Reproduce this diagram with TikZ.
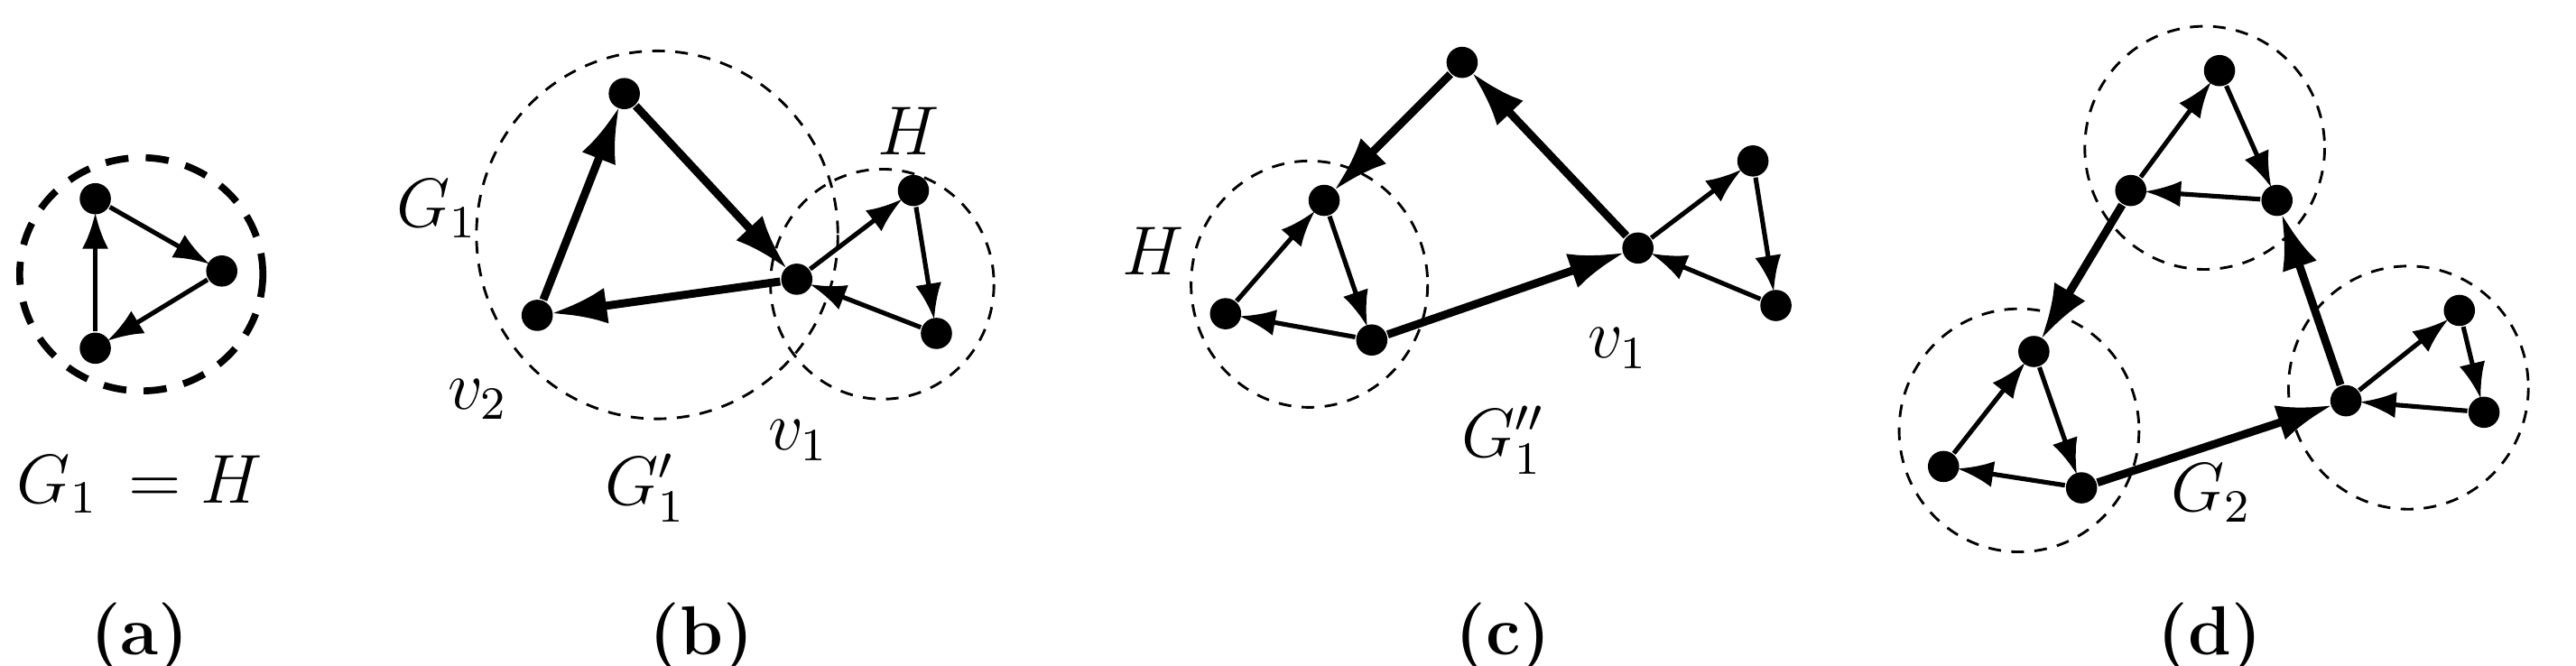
\documentclass[tikz,border=0pt]{standalone}
\usetikzlibrary{arrows.meta}
\begin{document}
\begin{tikzpicture}[x=0.1mm,y=-0.1mm,
  vtx/.style={circle,fill=black,inner sep=0pt,minimum size=1.9mm},
  thin edge/.style={line width=0.8pt,-{Latex[length=2.2mm,width=1.6mm]},shorten >=-0.5pt},
  thick edge/.style={line width=1.4pt,-{Latex[length=3.4mm,width=2.2mm]},shorten >=-0.5pt},
  ring/.style={line width=0.45pt,dash pattern=on 2.2pt off 1.8pt},
  bring/.style={line width=1.2pt,dash pattern=on 4pt off 3pt},
  lab/.style={font=\large},
  captext/.style={font=\large\bfseries}]
\useasboundingbox (0,0) rectangle (1568,405);
% (a)
\node[vtx] (a1) at (58,121) {};
\node[vtx] (a2) at (135,165) {};
\node[vtx] (a3) at (58,212) {};
\draw[bring] (86,167) ellipse (74 and 71);
\draw[thin edge] (a1) -- (a2);
\draw[thin edge] (a2) -- (a3);
\draw[thin edge] (a3) -- (a1);
\node[lab] (la) at (85,295) {$G_1\,=H$};
\node[captext] (ca) at (85,388) {(a)};
% (b)
\node[vtx] (bt) at (380,57) {};
\node[vtx] (bv2) at (327,192) {};
\node[vtx] (bv1) at (485,170) {};
\node[vtx] (bh1) at (556,116) {};
\node[vtx] (bh2) at (570,203) {};
\draw[ring] (400,143) ellipse (110 and 112);
\draw[ring] (537,173) ellipse (68 and 70);
\draw[thick edge] (bv2) -- (bt);
\draw[thick edge] (bt) -- (bv1);
\draw[thick edge] (bv1) -- (bv2);
\draw[thin edge] (bv1) -- (bh1);
\draw[thin edge] (bh1) -- (bh2);
\draw[thin edge] (bh2) -- (bv1);
\node[lab] (lb1) at (266,127) {$G_1$};
\node[lab] (lb2) at (553,80) {$H$};
\node[lab] (lb3) at (291,243) {$v_2$};
\node[lab] (lb4) at (486,268) {$v_1$};
\node[lab] (lb5) at (393,297) {$G_1'$};
\node[captext] (cb) at (427,388) {(b)};
% (c)
\node[vtx] (ct) at (890,38) {};
\node[vtx] (ch1) at (806,122) {};
\node[vtx] (ch2) at (746,191) {};
\node[vtx] (ch3) at (835,207) {};
\node[vtx] (cv1) at (997,151) {};
\node[vtx] (cr1) at (1067,98) {};
\node[vtx] (cr2) at (1081,186) {};
\draw[ring] (797,173) ellipse (72 and 75);
\draw[thick edge] (ct) -- (ch1);
\draw[thick edge] (cv1) -- (ct);
\draw[thick edge] (ch3) -- (cv1);
\draw[thin edge] (ch2) -- (ch1);
\draw[thin edge] (ch1) -- (ch3);
\draw[thin edge] (ch3) -- (ch2);
\draw[thin edge] (cv1) -- (cr1);
\draw[thin edge] (cr1) -- (cr2);
\draw[thin edge] (cr2) -- (cv1);
\node[lab] (lc1) at (702,153) {$H$};
\node[lab] (lc2) at (985,212) {$v_1$};
\node[lab] (lc3) at (915,268) {$G_1''$};
\node[captext] (cc) at (915,388) {(c)};
% (d)
\node[vtx] (dt1) at (1351,43) {};
\node[vtx] (dt2) at (1297,116) {};
\node[vtx] (dt3) at (1386,122) {};
\node[vtx] (dl1) at (1238,214) {};
\node[vtx] (dl2) at (1183,284) {};
\node[vtx] (dl3) at (1267,297) {};
\node[vtx] (dv) at (1428,244) {};
\node[vtx] (dr1) at (1497,189) {};
\node[vtx] (dr2) at (1512,251) {};
\draw[ring] (1342,90) ellipse (73 and 74);
\draw[ring] (1229,262) ellipse (73 and 74);
\draw[ring] (1466,236) ellipse (73 and 74);
\draw[thin edge] (dt2) -- (dt1);
\draw[thin edge] (dt1) -- (dt3);
\draw[thin edge] (dt3) -- (dt2);
\draw[thin edge] (dl2) -- (dl1);
\draw[thin edge] (dl1) -- (dl3);
\draw[thin edge] (dl3) -- (dl2);
\draw[thin edge] (dv) -- (dr1);
\draw[thin edge] (dr1) -- (dr2);
\draw[thin edge] (dr2) -- (dv);
\draw[thick edge] (dt2) -- (dl1);
\draw[thick edge] (dl3) -- (dv);
\draw[thick edge] (dv) -- (dt3);
\node[lab] (ld) at (1346,300) {$G_2$};
\node[captext] (cd) at (1345,388) {(d)};
\end{tikzpicture}
\end{document}
